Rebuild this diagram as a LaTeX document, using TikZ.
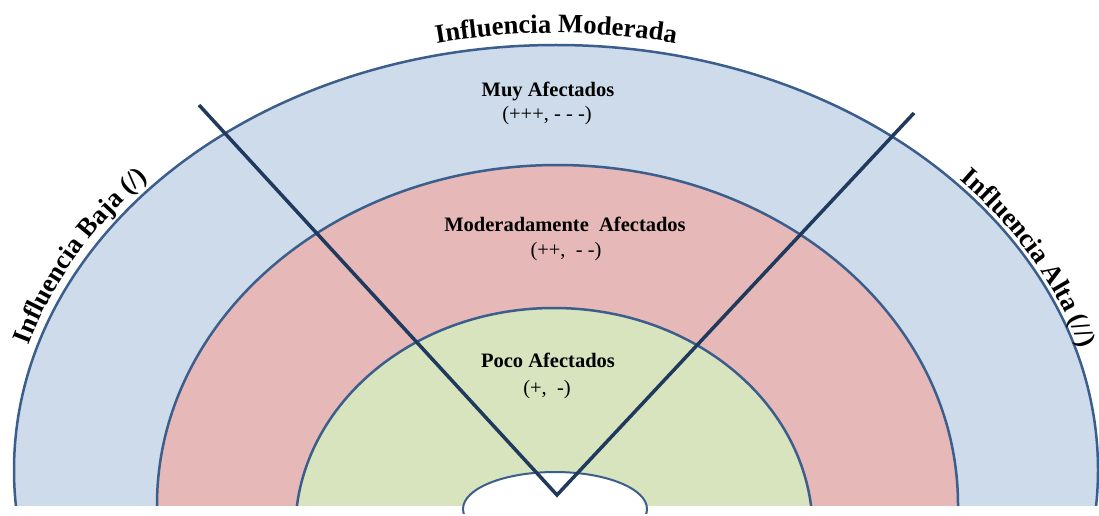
\documentclass[tikz,border=0pt]{standalone}
\usepackage{fontspec}
\setmainfont{Liberation Serif}
\usetikzlibrary{decorations.text}
\definecolor{bandblue}{HTML}{CDDBEB}
\definecolor{bandpink}{HTML}{E6B9B8}
\definecolor{bandgreen}{HTML}{D7E4BD}
\definecolor{rimcol}{HTML}{3B5E8C}
\definecolor{vcol}{HTML}{1F3A5C}
\begin{document}
\begin{tikzpicture}[x=1pt,y=1pt,
  rim/.style={draw=rimcol, line width=2.5pt},
  vline/.style={draw=vcol, line width=3.5pt, line join=miter},
  lbl/.style={font=\fontsize{20.5}{24}\selectfont\bfseries, anchor=base, inner sep=0pt},
  sublbl/.style={font=\fontsize{20.5}{24}\selectfont, anchor=base, inner sep=0pt},
  arctext/.style={decorate, decoration={text along path, text align=center,
     text={|\fontsize{26.6}{30}\selectfont\bfseries|#1}}}]
\useasboundingbox (0,0) rectangle (1099,515);
% bands
\begin{scope}
  \clip (0,10) rectangle (1099,515);
  \path[rim, fill=bandblue] (556,45) ellipse [x radius=542, y radius=425];
  \path[rim, fill=bandpink] (557.5,10) ellipse [x radius=400.5, y radius=340];
  \path[rim, fill=bandgreen] (554,-16) ellipse [x radius=258.7, y radius=223];
\end{scope}
% white hub
\begin{scope}
  \clip (0,2) rectangle (1099,515);
  \path[draw=rimcol, line width=2pt, fill=white] (555,6) ellipse [x radius=92, y radius=37];
\end{scope}
% V lines
\coordinate (vl) at (199,410);
\coordinate (vb) at (557,20);
\coordinate (vr) at (914,402);
\draw[vline] (vl) -- (vb) -- (vr);
% band labels
\node[lbl] (muy) at (548,418) {Muy Afectados};
\node[sublbl] (muys) at (547,394) {(+++, - - -)};
\node[lbl] (mod) at (565,284) {Moderadamente~ Afectados};
\node[sublbl] (mods) at (566,259) {(++,~ - -)};
\node[lbl] (poco) at (548,148) {Poco Afectados};
\node[sublbl] (pocos) at (547,121) {(+,~ -)};
% arc labels
\begin{scope}[shift={(556,45)}]
  \path[arctext={Influencia Moderada}] (122:555 and 437) arc[start angle=122, end angle=58, x radius=555, y radius=437];
  \path[arctext={Influencia Baja (/)}] (178:551 and 434) arc[start angle=178, end angle=125, x radius=551, y radius=434];
  \path[arctext={Influencia Alta (//)}] (54.5:547 and 430) arc[start angle=54.5, end angle=2.5, x radius=547, y radius=430];
\end{scope}
\end{tikzpicture}
\end{document}
